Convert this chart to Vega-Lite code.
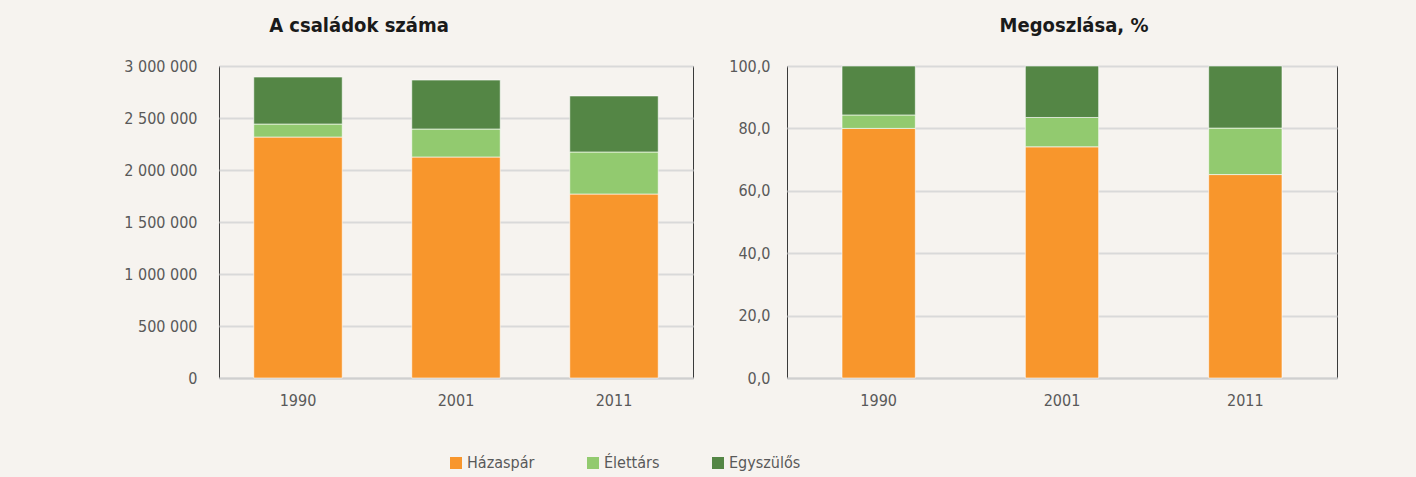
{
  "$schema": "https://vega.github.io/schema/vega-lite/v6.json",
  "background": "#f6f3ef",
  "padding": {"left": 120, "top": 15, "right": 90, "bottom": 12},
  "data": {"values": [
    {"year": "1990", "cat": "Házaspár", "k": 1, "count": 2317000, "pct": 80.0},
    {"year": "1990", "cat": "Élettárs", "k": 2, "count": 125000, "pct": 4.3},
    {"year": "1990", "cat": "Egyszülős", "k": 3, "count": 452000, "pct": 15.7},
    {"year": "2001", "cat": "Házaspár", "k": 1, "count": 2125000, "pct": 74.1},
    {"year": "2001", "cat": "Élettárs", "k": 2, "count": 269000, "pct": 9.4},
    {"year": "2001", "cat": "Egyszülős", "k": 3, "count": 471000, "pct": 16.5},
    {"year": "2011", "cat": "Házaspár", "k": 1, "count": 1769000, "pct": 65.2},
    {"year": "2011", "cat": "Élettárs", "k": 2, "count": 404000, "pct": 14.9},
    {"year": "2011", "cat": "Egyszülős", "k": 3, "count": 539000, "pct": 19.9}
  ]},
  "hconcat": [
    {
      "title": {"text": "A családok száma", "dx": -97},
      "width": 474,
      "height": 312,
      "mark": {"type": "bar", "stroke": "#ffffff", "strokeOpacity": 0.6, "strokeWidth": 1},
      "encoding": {
        "x": {"field": "year", "type": "nominal", "title": null,
              "scale": {"paddingInner": 0.44, "paddingOuter": 0.22},
              "axis": {"labelAngle": 0}},
        "y": {"field": "count", "type": "quantitative", "title": null, "stack": "zero",
              "scale": {"domain": [0, 3000000], "nice": false},
              "axis": {"values": [0, 500000, 1000000, 1500000, 2000000, 2500000, 3000000], "format": ",d", "minExtent": 98, "maxExtent": 98, "labelPadding": 22}},
        "color": {"field": "cat", "type": "nominal", "title": null,
                  "scale": {"domain": ["Házaspár", "Élettárs", "Egyszülős"], "range": ["#f8962c", "#92ca6f", "#548645"]}},
        "order": {"field": "k", "type": "quantitative", "sort": "ascending"}
      }
    },
    {
      "title": {"text": "Megoszlása, %", "dx": 12},
      "width": 550,
      "height": 312,
      "mark": {"type": "bar", "stroke": "#ffffff", "strokeOpacity": 0.6, "strokeWidth": 1},
      "encoding": {
        "x": {"field": "year", "type": "nominal", "title": null,
              "scale": {"paddingInner": 0.6, "paddingOuter": 0.3},
              "axis": {"labelAngle": 0}},
        "y": {"field": "pct", "type": "quantitative", "title": null, "stack": "zero",
              "scale": {"domain": [0, 100], "nice": false},
              "axis": {"values": [0, 20, 40, 60, 80, 100], "format": ".1f", "minExtent": 52, "maxExtent": 52, "labelPadding": 17}},
        "color": {"field": "cat", "type": "nominal", "title": null,
                  "scale": {"domain": ["Házaspár", "Élettárs", "Egyszülős"], "range": ["#f8962c", "#92ca6f", "#548645"]}},
        "order": {"field": "k", "type": "quantitative", "sort": "ascending"}
      }
    }
  ],
  "spacing": 34,
  "resolve": {"scale": {"y": "independent"}},
  "config": {
    "locale": {"number": {"decimal": ",", "thousands": " ", "grouping": [3], "currency": ["", ""]}},
    "font": "DejaVu Sans Condensed, Roboto, sans-serif",
    "view": {"stroke": "#3a3a3a", "strokeWidth": 1},
    "title": {"font": "DejaVu Sans Condensed, Roboto, sans-serif", "fontSize": 20, "fontWeight": "bold", "color": "#1a1a1a", "anchor": "middle", "offset": 22},
    "axis": {"labelFont": "DejaVu Sans Condensed, Roboto, sans-serif", "labelFontSize": 16, "labelColor": "#595959", "ticks": false, "gridColor": "#d9d9d9", "gridWidth": 2},
    "axisY": {"domain": false, "grid": true},
    "axisX": {"domain": true, "domainColor": "#cfcfcf", "domainWidth": 2, "grid": false, "labelPadding": 14},
    "legend": {"orient": "none", "direction": "horizontal", "legendX": 229, "legendY": 389, "symbolType": "square", "symbolSize": 144, "symbolStrokeWidth": 0, "labelFont": "DejaVu Sans Condensed, Roboto, sans-serif", "labelFontSize": 16, "labelColor": "#595959", "columnPadding": 50, "labelOffset": 3}
  }
}
